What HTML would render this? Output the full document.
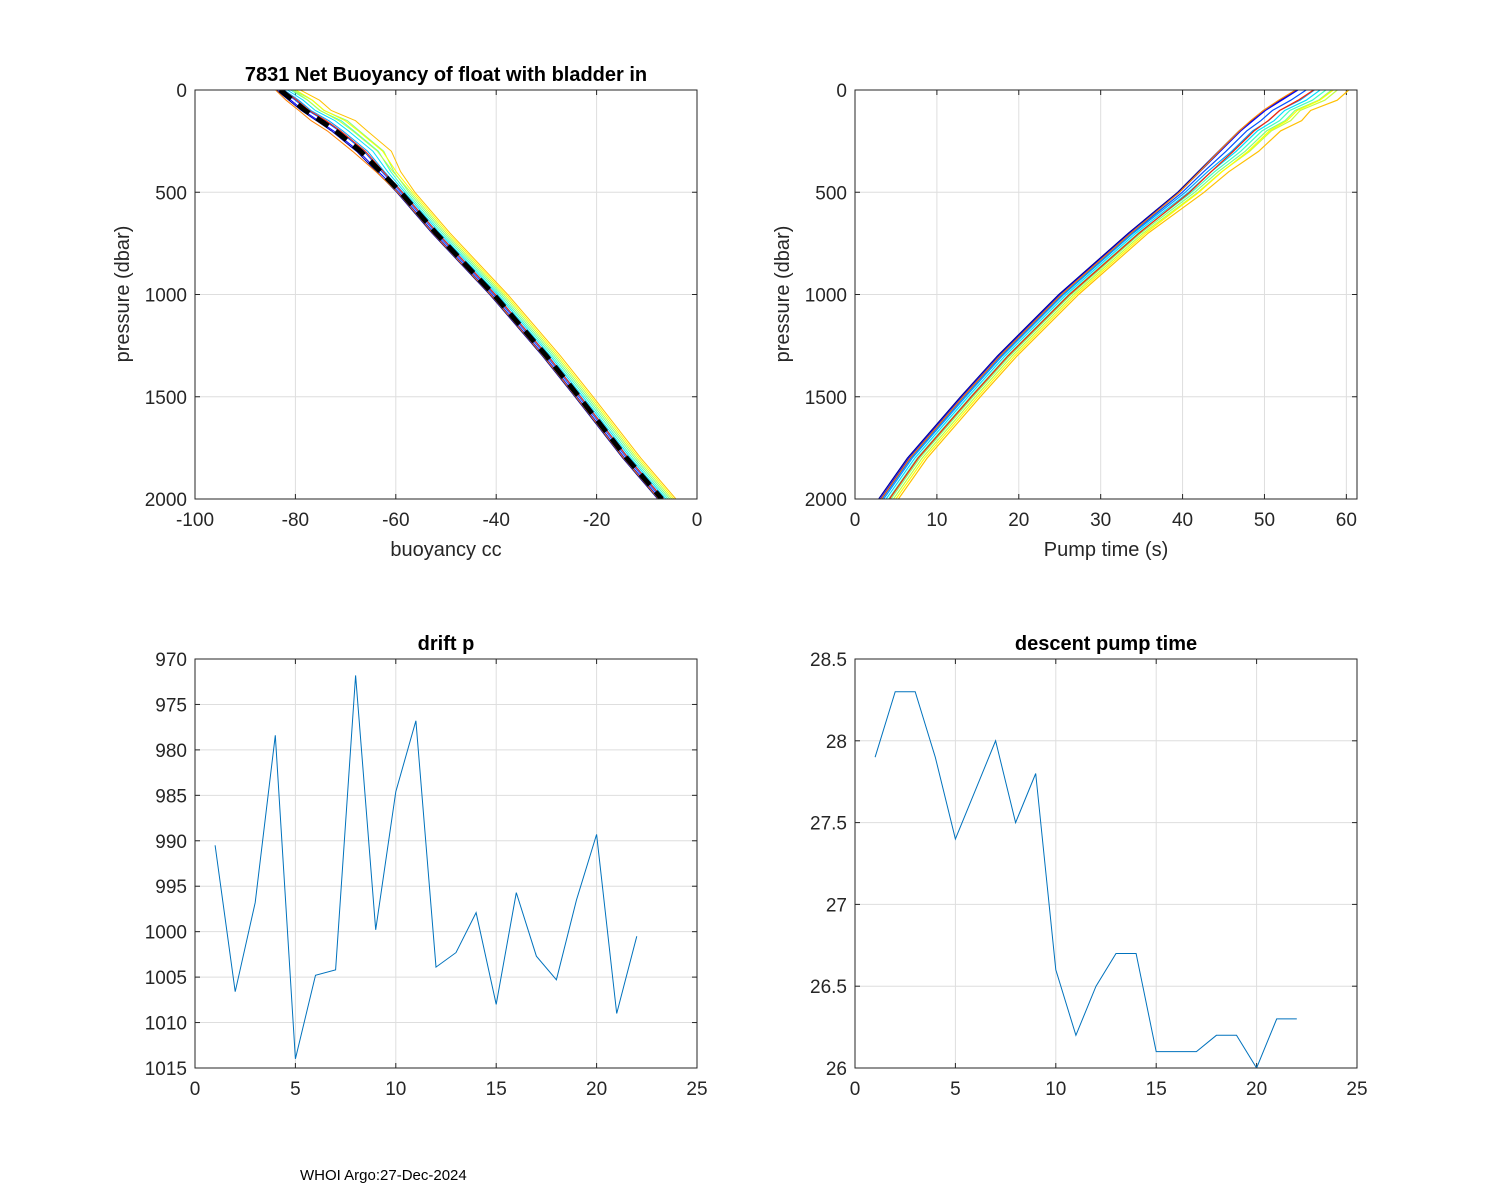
<!DOCTYPE html>
<html><head><meta charset="utf-8"><style>
body{margin:0;background:#fff;width:1500px;height:1200px;overflow:hidden;font-family:"Liberation Sans",sans-serif}
svg{position:absolute;left:0;top:0}
</style></head><body>
<svg id="fig" width="1500" height="1200" xmlns="http://www.w3.org/2000/svg"></svg>
<div style="position:absolute;left:300px;top:1167px;font-size:15px">WHOI Argo:27-Dec-2024</div>
<script>
// ---- data ----
const driftCycles = [1,2,3,4,5,6,7,8,9,10,11,12,13,14,15,16,17,18,19,20,21,22];
const driftP = [990.5,1006.6,996.8,978.4,1014,1004.8,1004.2,971.8,999.8,984.6,976.8,1003.9,1002.3,997.9,1008,995.7,1002.7,1005.3,996.5,989.3,1009,1000.5];
const pumpCycles = [1,2,3,4,5,6,7,8,9,10,11,12,13,14,15,16,17,18,19,20,21,22];
const pumpTime = [27.9,28.3,28.3,27.9,27.4,27.7,28.0,27.5,27.8,26.6,26.2,26.5,26.7,26.7,26.1,26.1,26.1,26.2,26.2,26.0,26.3,26.3];
const profP = [0,50,100,150,200,300,400,500,700,1000,1300,1500,1800,2000];
const meanBuoy = [-83,-80.5,-78,-75,-72,-67,-63,-59,-52,-40.5,-30,-23.5,-14,-7];
const buoyOffsets = [-0.8,-0.4,0,0.4,0.8,1.2,1.6,2,2.4,2.8,-0.6,0.3];
const surfBuoyDev = [0,0,1,1.5,2.5,3.5,4.5,2,3,5,-1.5,1];
const meanPump = [54.5,52.5,50.5,49,47.5,45,42.5,40,34,25.5,18,13.5,7,3.5];
const pumpOffsets = [-0.6,-0.4,-0.2,0,0.3,0.6,0.9,1.2,1.5,1.8,-0.3,0.7];
const surfPumpDev = [0,0,1,2,2.5,3,3.5,4,3,5,-0.5,1];
const profColors = ["#0000a0","#0000ff","#0050ff","#00a0ff","#00e0ff","#40ffc0","#80ff80","#c0ff40","#ffff00","#ffc000","#ff8000","#ff2000"];

const svg=document.getElementById('fig');const NS='http://www.w3.org/2000/svg';
function mk(t,a,parent){const e=document.createElementNS(NS,t);for(const k in a)e.setAttribute(k,a[k]);(parent||svg).appendChild(e);return e;}
function txt(s,x,y,size,anchor,extra){const e=mk('text',Object.assign({x:x,y:y,'font-size':size,'text-anchor':anchor||'middle','font-family':'Liberation Sans, sans-serif',fill:'#262626'},extra||{}));e.textContent=s;return e;}

function axes(cfg){
 const {x0,x1,y0,y1,xmin,xmax,ymin,ymax,xticks,yticks,rev,name}=cfg;
 const sx=v=>x0+(v-xmin)/(xmax-xmin)*(x1-x0);
 const sy=rev?(v=>y0+(v-ymin)/(ymax-ymin)*(y1-y0)):(v=>y1-(v-ymin)/(ymax-ymin)*(y1-y0));
 const g=mk('g',{});
 
 
 mk('rect',{x:x0,y:y0,width:x1-x0,height:y1-y0,fill:'#fff'},g);
 xticks.forEach(v=>{const x=sx(v);mk('line',{x1:x,x2:x,y1:y0,y2:y1,stroke:'#dedede'},g);mk('line',{x1:x,x2:x,y1:y1,y2:y1-5,stroke:'#262626'},g);mk('line',{x1:x,x2:x,y1:y0,y2:y0+5,stroke:'#262626'},g);
  const t=txt(String(v),x,y1+27,19);});
 yticks.forEach(v=>{const y=sy(v);mk('line',{x1:x0,x2:x1,y1:y,y2:y,stroke:'#dedede'},g);mk('line',{x1:x0,x2:x0+5,y1:y,y2:y,stroke:'#262626'},g);mk('line',{x1:x1,x2:x1-5,y1:y,y2:y,stroke:'#262626'},g);
  const t=txt(String(v),x0-8,y+7,19,'end');});
 const clip='c'+name;const cp=mk('clipPath',{id:clip});mk('rect',{x:x0,y:y0,width:x1-x0,height:y1-y0},cp);
 const pg=mk('g',{'clip-path':'url(#'+clip+')'});
 mk('rect',{x:x0,y:y0,width:x1-x0,height:y1-y0,fill:'none',stroke:'#262626','stroke-width':1});
 return {sx,sy,pg};
}
function poly(pts,attrs,parent,nm){const p=mk('polyline',Object.assign({points:pts.map(q=>q[0].toFixed(1)+','+q[1].toFixed(1)).join(' '),fill:'none'},attrs),parent);return p;}

// top-left
const A=axes({x0:195,x1:697,y0:90,y1:499,xmin:-100,xmax:0,ymin:0,ymax:2000,xticks:[-100,-80,-60,-40,-20,0],yticks:[0,500,1000,1500,2000],rev:true,name:'buoyancy-axes'});
buoyOffsets.forEach((o,i)=>{const pts=profP.map((p,j)=>{const s=Math.max(0,1-Math.abs(p-200)/300);return [A.sx(meanBuoy[j]+o+surfBuoyDev[i]*s*(j%2?1:0.7)),A.sy(p)];});
 poly(pts,{stroke:profColors[i],'stroke-width':1},A.pg,'buoyancy-profile');});
poly(profP.map((p,j)=>[A.sx(meanBuoy[j]),A.sy(p)]),{stroke:'#000','stroke-width':5,'stroke-dasharray':'14,9'},A.pg,'mean-buoyancy-line');
txt('7831 Net Buoyancy of float with bladder in',446,81,20,'middle',{'font-weight':'bold',fill:'#000'});
txt('buoyancy cc',446,556,20);
txt('pressure (dbar)',129,294,20,'middle',{transform:'rotate(-90 129 294)'});

// top-right
const B=axes({x0:855,x1:1357,y0:90,y1:499,xmin:0,xmax:61.3,ymin:0,ymax:2000,xticks:[0,10,20,30,40,50,60],yticks:[0,500,1000,1500,2000],rev:true,name:'pump-time-axes'});
pumpOffsets.forEach((o,i)=>{const pts=profP.map((p,j)=>{const s=Math.max(0,1-p/600);return [B.sx(meanPump[j]+o+surfPumpDev[i]*s*(j%2?1:0.8)),B.sy(p)];});
 poly(pts,{stroke:profColors[i],'stroke-width':1.2},B.pg,'pump-profile');});
txt('Pump time (s)',1106,556,20);
txt('pressure (dbar)',789,294,20,'middle',{transform:'rotate(-90 789 294)'});

// bottom-left
const C=axes({x0:195,x1:697,y0:659,y1:1068,xmin:0,xmax:25,ymin:970,ymax:1015,xticks:[0,5,10,15,20,25],yticks:[970,975,980,985,990,995,1000,1005,1010,1015],rev:true,name:'drift-p-axes'});
poly(driftCycles.map((c,i)=>[C.sx(c),C.sy(driftP[i])]),{stroke:'#0072bd','stroke-width':1},C.pg,'drift-p-line');
txt('drift p',446,650,20,'middle',{'font-weight':'bold',fill:'#000'});

// bottom-right
const D=axes({x0:855,x1:1357,y0:659,y1:1068,xmin:0,xmax:25,ymin:26,ymax:28.5,xticks:[0,5,10,15,20,25],yticks:[26,26.5,27,27.5,28,28.5],rev:false,name:'descent-pump-axes'});
poly(pumpCycles.map((c,i)=>[D.sx(c),D.sy(pumpTime[i])]),{stroke:'#0072bd','stroke-width':1},D.pg,'descent-pump-line');
txt('descent pump time',1106,650,20,'middle',{'font-weight':'bold',fill:'#000'});
</script>
</body></html>
